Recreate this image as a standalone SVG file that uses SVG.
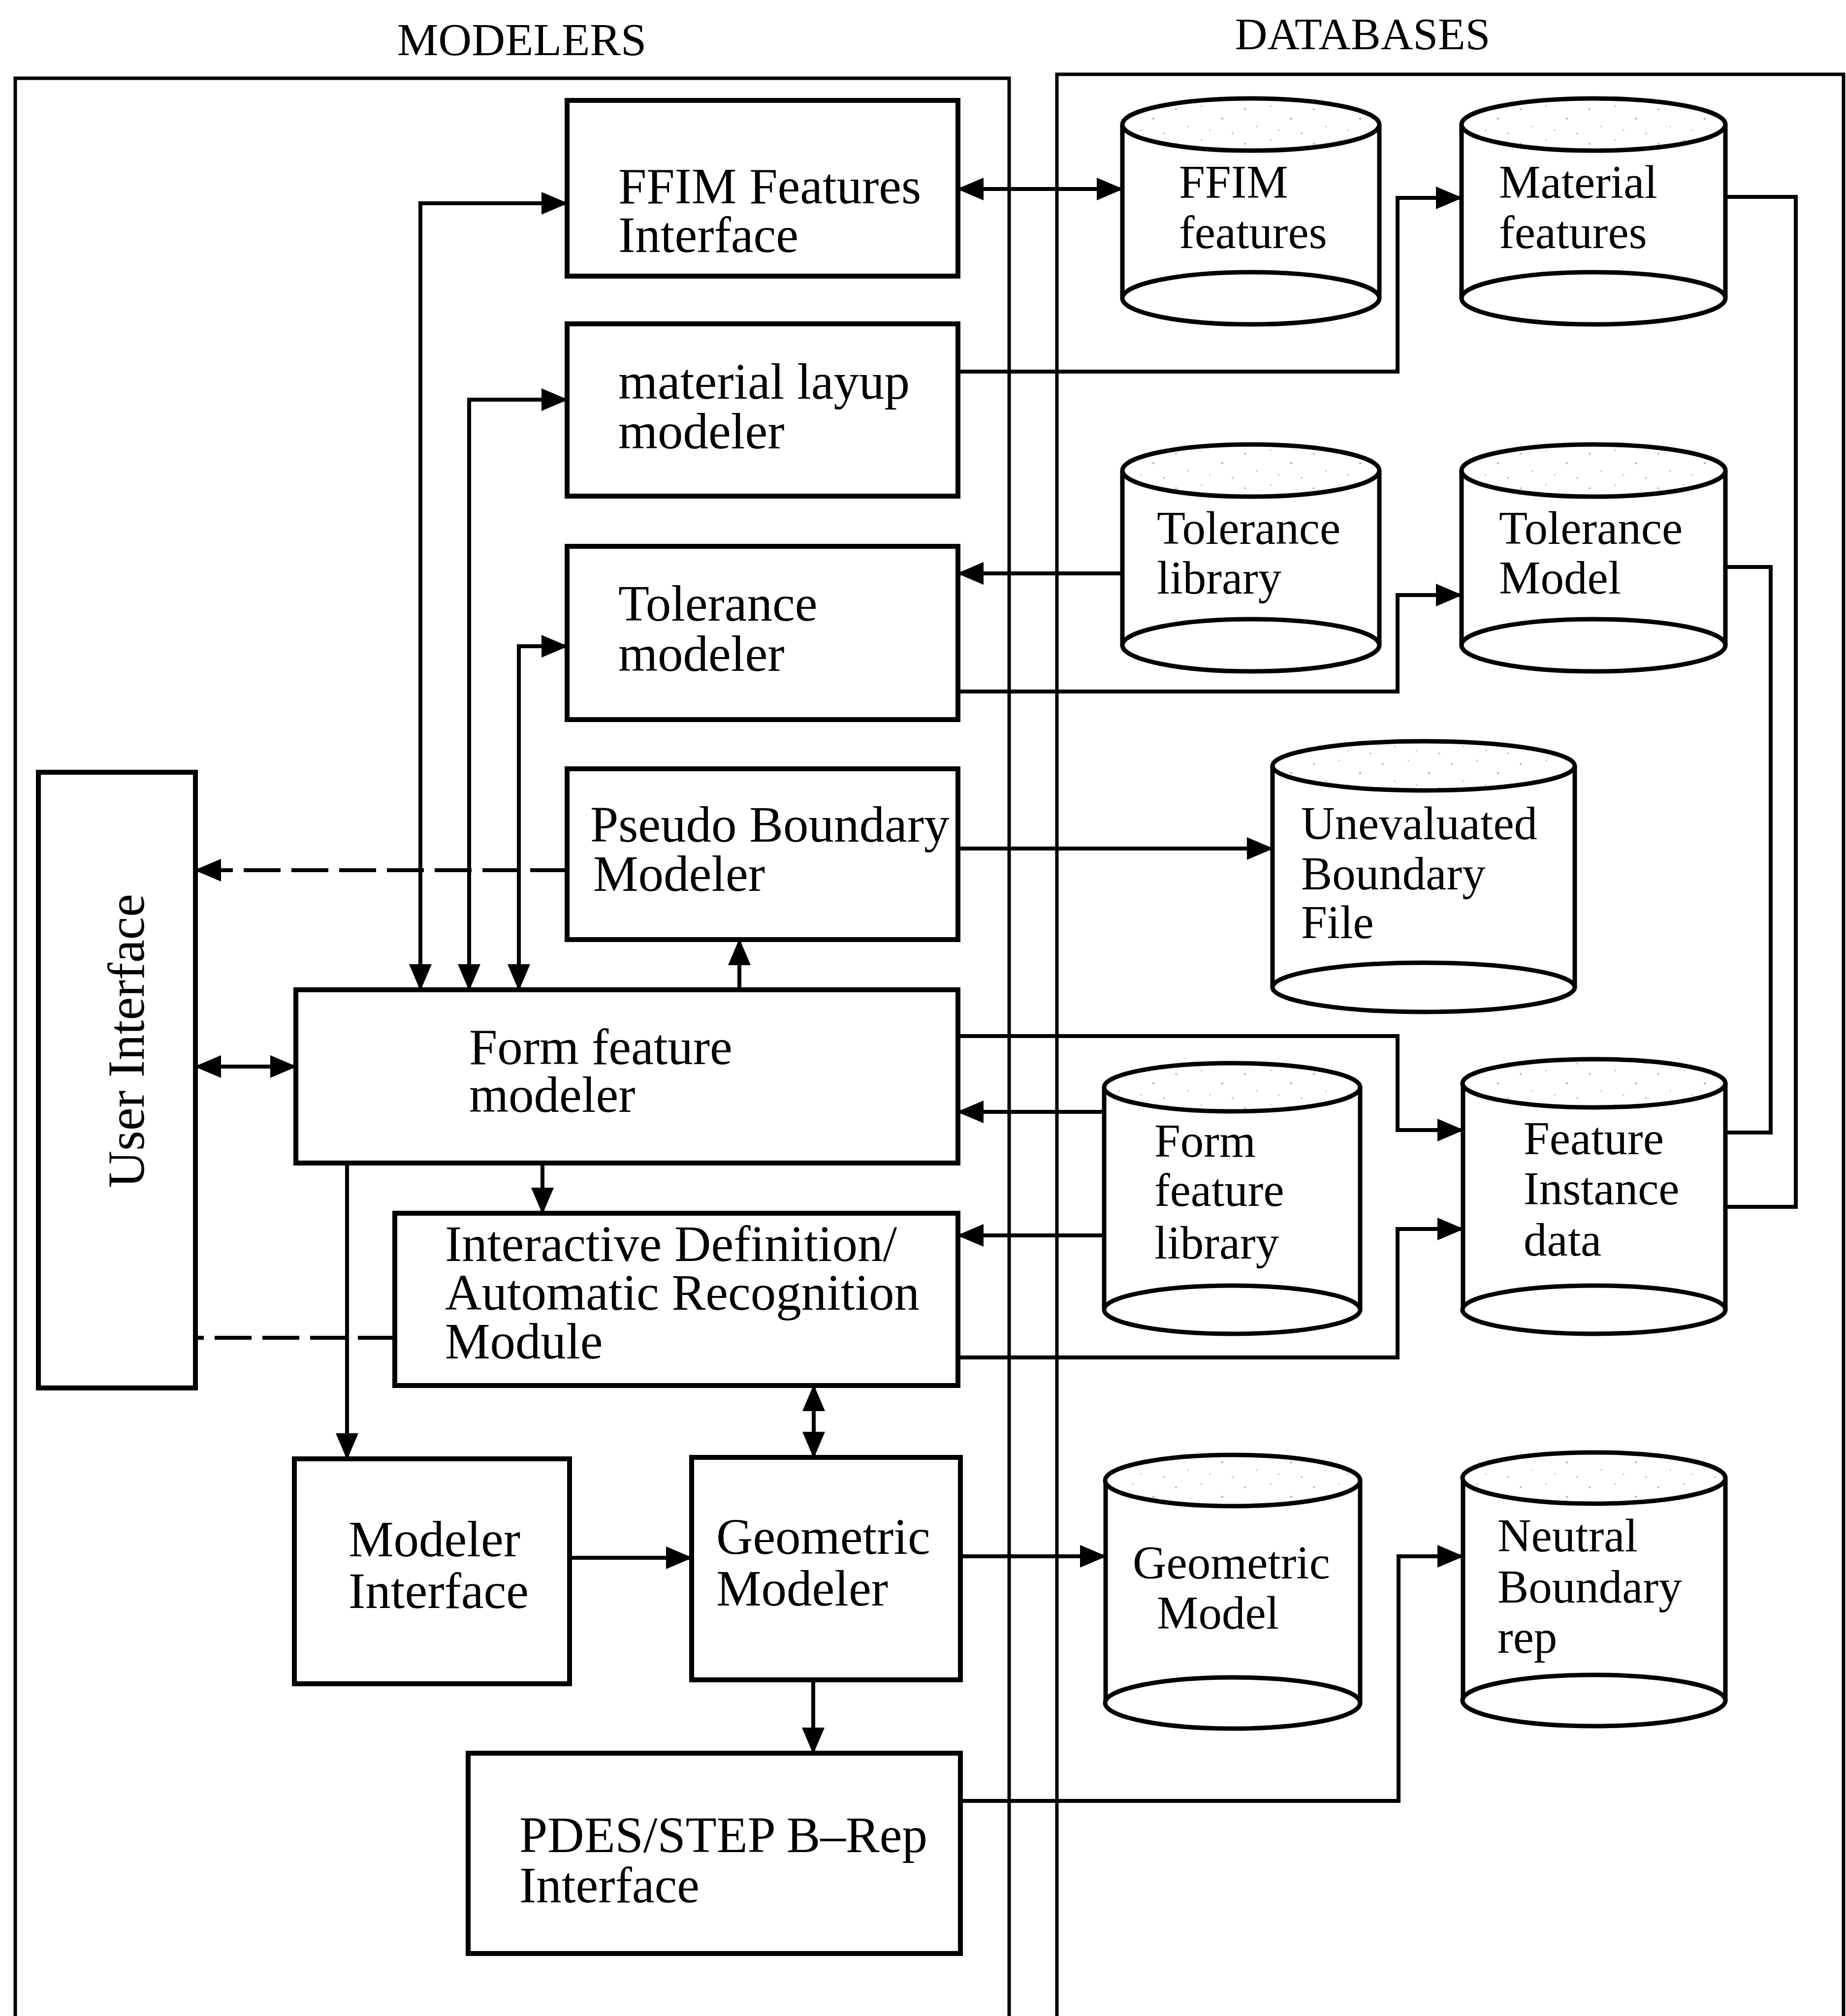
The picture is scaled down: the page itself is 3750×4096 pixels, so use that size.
<svg xmlns="http://www.w3.org/2000/svg" width="3750" height="4096" viewBox="0 0 3750 4096">
  <style>
    .box { fill: #fff; stroke: #000; stroke-width: 10; }
    .cyl path, .cyl ellipse { fill: #fff; stroke: #000; stroke-width: 9; }
    .cyl ellipse.top { fill: url(#speckle); }
    .frame { fill: none; stroke: #000; stroke-width: 7; }
    .conn path { fill: none; stroke: #000; stroke-width: 8; }
    .conn path.dash { stroke-dasharray: 75 22; }
    text { font-family: "Liberation Serif", "Times New Roman", serif; fill: #000; }
    .lbl { font-size: 103px; }
    .dbl { font-size: 95px; }
    .hdr { font-size: 94px; text-anchor: middle; }
  </style>
  <defs>
    <marker id="ah" markerUnits="userSpaceOnUse" markerWidth="54" markerHeight="46" viewBox="0 0 54 46" refX="52" refY="23" orient="auto-start-reverse">
      <path d="M0,0 L54,23 L0,46 Z" fill="#000"/>
    </marker>
    <pattern id="speckle" width="140" height="70" patternUnits="userSpaceOnUse">
      <rect width="140" height="70" fill="#fff"/>
      <g fill="#b4b4b4">
        <circle cx="9" cy="12" r="2"/>
        <circle cx="61" cy="5" r="1.6"/>
        <circle cx="103" cy="31" r="2.2"/>
        <circle cx="33" cy="47" r="1.5"/>
        <circle cx="124" cy="61" r="1.8"/>
        <circle cx="78" cy="55" r="1.4"/>
      </g>
    </pattern>
  </defs>

  <rect width="3750" height="4096" fill="#fff"/>

  <!-- section headings and frames -->
  <text class="hdr" x="1060" y="112">MODELERS</text>
  <text class="hdr" x="2768" y="100" style="font-size:91px">DATABASES</text>
  <path class="frame" d="M31,4096 V159 H2050 V4096"/>
  <path class="frame" d="M2147,4096 V151 H3745 V4096"/>

  <!-- modeler boxes -->
  <g id="ffim-interface">
    <rect class="box" x="1152" y="204" width="794" height="357"/>
    <text class="lbl" x="1256" y="413">FFIM Features</text>
    <text class="lbl" x="1256" y="512">Interface</text>
  </g>
  <g id="material-layup-modeler">
    <rect class="box" x="1152" y="658" width="794" height="350"/>
    <text class="lbl" x="1256" y="810">material layup</text>
    <text class="lbl" x="1256" y="911">modeler</text>
  </g>
  <g id="tolerance-modeler">
    <rect class="box" x="1152" y="1110" width="794" height="352"/>
    <text class="lbl" x="1256" y="1261">Tolerance</text>
    <text class="lbl" x="1256" y="1363">modeler</text>
  </g>
  <g id="pseudo-boundary-modeler">
    <rect class="box" x="1152" y="1562" width="794" height="347"/>
    <text class="lbl" x="1199" y="1710">Pseudo Boundary</text>
    <text class="lbl" x="1205" y="1810">Modeler</text>
  </g>
  <g id="form-feature-modeler">
    <rect class="box" x="601" y="2011" width="1345" height="352"/>
    <text class="lbl" x="953" y="2162">Form feature</text>
    <text class="lbl" x="953" y="2259">modeler</text>
  </g>
  <g id="recognition-module">
    <rect class="box" x="802" y="2465" width="1144" height="350"/>
    <text class="lbl" x="904" y="2562">Interactive Definition/</text>
    <text class="lbl" x="904" y="2661">Automatic Recognition</text>
    <text class="lbl" x="904" y="2760">Module</text>
  </g>
  <g id="modeler-interface">
    <rect class="box" x="598" y="2964" width="559" height="457"/>
    <text class="lbl" x="708" y="3162">Modeler</text>
    <text class="lbl" x="708" y="3267">Interface</text>
  </g>
  <g id="geometric-modeler">
    <rect class="box" x="1405" y="2961" width="546" height="452"/>
    <text class="lbl" x="1455" y="3157">Geometric</text>
    <text class="lbl" x="1455" y="3262">Modeler</text>
  </g>
  <g id="pdes-step-interface">
    <rect class="box" x="951" y="3562" width="1000" height="407"/>
    <text class="lbl" x="1055" y="3763">PDES/STEP B–Rep</text>
    <text class="lbl" x="1055" y="3865">Interface</text>
  </g>
  <g id="user-interface">
    <rect class="box" x="78" y="1569" width="319" height="1251"/>
    <text x="0" y="0" transform="translate(292,2115) rotate(-90)" style="font-size:105px;text-anchor:middle">User Interface</text>
  </g>

  <!-- database cylinders -->
  <g id="ffim-features-db" class="cyl">
    <path d="M2280,253 V606 M2802,253 V606"/>
    <ellipse cx="2541" cy="606" rx="261" ry="53"/>
    <ellipse class="top" cx="2541" cy="253" rx="261" ry="53"/>
    <text class="dbl" x="2395" y="402">FFIM</text>
    <text class="dbl" x="2395" y="504">features</text>
  </g>
  <g id="material-features-db" class="cyl">
    <path d="M2969,253 V606 M3505,253 V606"/>
    <ellipse cx="3237" cy="606" rx="268" ry="53"/>
    <ellipse class="top" cx="3237" cy="253" rx="268" ry="53"/>
    <text class="dbl" x="3045" y="402">Material</text>
    <text class="dbl" x="3045" y="504">features</text>
  </g>
  <g id="tolerance-library-db" class="cyl">
    <path d="M2280,956 V1311 M2802,956 V1311"/>
    <ellipse cx="2541" cy="1311" rx="261" ry="53"/>
    <ellipse class="top" cx="2541" cy="956" rx="261" ry="53"/>
    <text class="dbl" x="2350" y="1105">Tolerance</text>
    <text class="dbl" x="2350" y="1206">library</text>
  </g>
  <g id="tolerance-model-db" class="cyl">
    <path d="M2969,956 V1311 M3505,956 V1311"/>
    <ellipse cx="3237" cy="1311" rx="268" ry="53"/>
    <ellipse class="top" cx="3237" cy="956" rx="268" ry="53"/>
    <text class="dbl" x="3045" y="1105">Tolerance</text>
    <text class="dbl" x="3045" y="1206">Model</text>
  </g>
  <g id="unevaluated-boundary-db" class="cyl">
    <path d="M2585,1556 V2006 M3199,1556 V2006"/>
    <ellipse cx="2892" cy="2006" rx="307" ry="50"/>
    <ellipse class="top" cx="2892" cy="1556" rx="307" ry="50"/>
    <text class="dbl" x="2643" y="1705">Unevaluated</text>
    <text class="dbl" x="2643" y="1807">Boundary</text>
    <text class="dbl" x="2643" y="1906">File</text>
  </g>
  <g id="form-feature-library-db" class="cyl">
    <path d="M2243,2209 V2661 M2763,2209 V2661"/>
    <ellipse cx="2503" cy="2661" rx="260" ry="49"/>
    <ellipse class="top" cx="2503" cy="2209" rx="260" ry="49"/>
    <text class="dbl" x="2345" y="2350">Form</text>
    <text class="dbl" x="2345" y="2450">feature</text>
    <text class="dbl" x="2345" y="2557">library</text>
  </g>
  <g id="feature-instance-db" class="cyl">
    <path d="M2972,2201 V2661 M3505,2201 V2661"/>
    <ellipse cx="3238" cy="2661" rx="267" ry="49"/>
    <ellipse class="top" cx="3238" cy="2201" rx="267" ry="49"/>
    <text class="dbl" x="3095" y="2345">Feature</text>
    <text class="dbl" x="3095" y="2447">Instance</text>
    <text class="dbl" x="3095" y="2551">data</text>
  </g>
  <g id="geometric-model-db" class="cyl">
    <path d="M2246,3008 V3460 M2763,3008 V3460"/>
    <ellipse cx="2504" cy="3460" rx="259" ry="52"/>
    <ellipse class="top" cx="2504" cy="3008" rx="259" ry="52"/>
    <text class="dbl" x="2301" y="3207">Geometric</text>
    <text class="dbl" x="2350" y="3309">Model</text>
  </g>
  <g id="neutral-brep-db" class="cyl">
    <path d="M2972,3003 V3455 M3505,3003 V3455"/>
    <ellipse cx="3238" cy="3455" rx="267" ry="52"/>
    <ellipse class="top" cx="3238" cy="3003" rx="267" ry="52"/>
    <text class="dbl" x="3042" y="3152">Neutral</text>
    <text class="dbl" x="3042" y="3256">Boundary</text>
    <text class="dbl" x="3042" y="3358">rep</text>
  </g>

  <!-- connectors -->
  <g id="connectors" class="conn">
    <!-- form feature modeler to the upper modelers -->
    <path d="M854,2011 V413 H1152" marker-start="url(#ah)" marker-end="url(#ah)"/>
    <path d="M953,2011 V812 H1152" marker-start="url(#ah)" marker-end="url(#ah)"/>
    <path d="M1054,2011 V1313 H1152" marker-start="url(#ah)" marker-end="url(#ah)"/>
    <path d="M1502,2011 V1909" marker-end="url(#ah)"/>
    <!-- user interface links -->
    <path class="dash" d="M1152,1768 H397" marker-end="url(#ah)"/>
    <path d="M397,2167 H601" marker-start="url(#ah)" marker-end="url(#ah)"/>
    <path class="dash" d="M802,2718 H397"/>
    <!-- lower modeler chain -->
    <path d="M1102,2363 V2465" marker-end="url(#ah)"/>
    <path d="M705,2363 V2964" marker-end="url(#ah)"/>
    <path d="M1653,2815 V2961" marker-start="url(#ah)" marker-end="url(#ah)"/>
    <path d="M1157,3165 H1405" marker-end="url(#ah)"/>
    <path d="M1652,3413 V3562" marker-end="url(#ah)"/>
    <!-- modelers to databases -->
    <path d="M1946,384 H2280" marker-start="url(#ah)" marker-end="url(#ah)"/>
    <path d="M1946,755 H2839 V402 H2969" marker-end="url(#ah)"/>
    <path d="M2280,1165 H1946" marker-end="url(#ah)"/>
    <path d="M1946,1405 H2839 V1209 H2969" marker-end="url(#ah)"/>
    <path d="M1946,1724 H2585" marker-end="url(#ah)"/>
    <path d="M1946,2105 H2839 V2296 H2972" marker-end="url(#ah)"/>
    <path d="M2243,2259 H1946" marker-end="url(#ah)"/>
    <path d="M2243,2510 H1946" marker-end="url(#ah)"/>
    <path d="M1946,2758 H2839 V2497 H2972" marker-end="url(#ah)"/>
    <path d="M3505,400 H3648 V2452 H3505"/>
    <path d="M3505,1152 H3597 V2301 H3505"/>
    <path d="M1951,3162 H2246" marker-end="url(#ah)"/>
    <path d="M1951,3659 H2841 V3162 H2972" marker-end="url(#ah)"/>
  </g>
</svg>
